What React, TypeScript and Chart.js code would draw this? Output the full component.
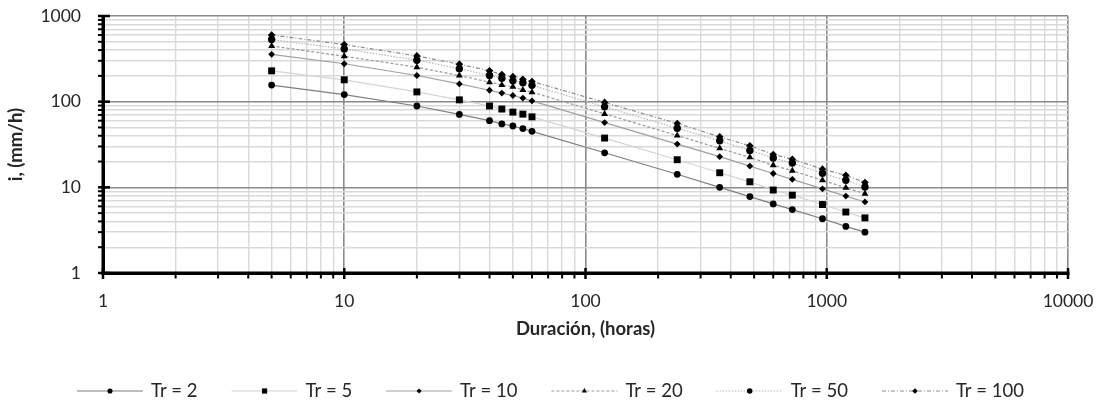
import React, { useEffect, useRef } from "react";
import { Chart, registerables } from "chart.js";

Chart.register(...registerables);

// Storm duration (hours)
const durations = [5, 10, 20, 30, 40, 45, 50, 55, 60, 120, 240, 360, 480, 600, 720, 960, 1200, 1440];

// Rainfall intensity (mm/h) for each return period
const tr2 = [156, 121, 89, 71, 60, 55, 52, 48.5, 45, 25.3, 14.2, 10.0, 7.8, 6.4, 5.5, 4.3, 3.5, 3.0];
const tr5 = [229, 180, 130, 105, 89, 82, 75.5, 71.5, 66.5, 37.6, 21, 14.8, 11.6, 9.3, 8.1, 6.3, 5.15, 4.4];
const tr10 = [357, 277, 202, 161, 136, 126, 118, 110, 102, 57, 32, 22.8, 17.7, 14.5, 12.4, 9.6, 7.9, 6.75];
const tr20 = [447, 339, 252, 202, 169, 157, 149, 137, 129, 72, 40.3, 28.5, 22.4, 18.1, 15.6, 12.1, 9.9, 8.4];
const tr50 = [531, 413, 305, 243, 202, 188, 175, 166, 155, 87, 49, 35, 27, 22, 19.2, 14.6, 12.1, 10.1];
const tr100 = [601, 464, 342, 274, 229, 207, 196, 183, 172, 98, 55.7, 38.9, 30.5, 24.2, 21.3, 16.3, 13.8, 11.4];

const seriesNames = ["Tr = 2", "Tr = 5", "Tr = 10", "Tr = 20", "Tr = 50", "Tr = 100"];
const seriesValues = [tr2, tr5, tr10, tr20, tr50, tr100];

const xMin = 1;
const xMax = 10000;
const yMin = 1;
const yMax = 1000;
const xTitle = "Duración, (horas)";
const yTitle = "i, (mm/h)";

const FONT = '"Lato", "Liberation Sans", sans-serif';
const TEXT = "#262626";

type Marker = "circle" | "rect" | "rectRot" | "triangle";
interface SeriesStyle {
  color: string;
  dash: number[];
  point: Marker;
  r: number;
}

const seriesStyles: SeriesStyle[] = [
  { color: "#7f7f7f", dash: [], point: "circle", r: 3.4 },
  { color: "#d4d4d4", dash: [], point: "rect", r: 4.9 },
  { color: "#a0a0a0", dash: [], point: "rectRot", r: 3.4 },
  { color: "#9a9a9a", dash: [3, 2], point: "triangle", r: 4 },
  { color: "#b8b8b8", dash: [1.5, 1.5], point: "circle", r: 3.7 },
  { color: "#8c8c8c", dash: [4, 2, 1, 2], point: "rectRot", r: 3.8 },
];

const isDecade = (v: number) => Math.abs(Math.log10(v) - Math.round(Math.log10(v))) < 1e-9;

// 1..9 x 10^k between min and max
function logTicks(min: number, max: number) {
  const out: number[] = [];
  for (let e = Math.round(Math.log10(min)); Math.pow(10, e) <= max; e++) {
    for (let m = 1; m <= 9; m++) {
      const v = m * Math.pow(10, e);
      if (v >= min - 1e-9 && v <= max + 1e-9) out.push(Number(v.toPrecision(6)));
    }
  }
  return out;
}

function drawMarker(ctx: CanvasRenderingContext2D, kind: Marker, x: number, y: number, r: number) {
  ctx.beginPath();
  if (kind === "circle") {
    ctx.arc(x, y, r, 0, Math.PI * 2);
  } else if (kind === "rect") {
    const s = r * Math.SQRT1_2;
    ctx.rect(x - s, y - s, 2 * s, 2 * s);
  } else if (kind === "rectRot") {
    ctx.moveTo(x - r, y);
    ctx.lineTo(x, y - r);
    ctx.lineTo(x + r, y);
    ctx.lineTo(x, y + r);
    ctx.closePath();
  } else {
    const h = r * 1.5;
    ctx.moveTo(x, y - r);
    ctx.lineTo(x + h * 0.577, y + h - r);
    ctx.lineTo(x - h * 0.577, y + h - r);
    ctx.closePath();
  }
  ctx.fill();
}

// Axis lines, tick marks, axis titles and the legend row
const decorations = {
  id: "decorations",
  afterDraw(chart: any) {
    const { ctx, chartArea: a, scales } = chart;
    const xs = scales.x;
    const ys = scales.y;
    ctx.save();
    ctx.fillStyle = "#000";

    // y axis
    ctx.fillRect(a.left - 1.5, a.top - 1, 3.5, a.bottom - a.top + 2.5);
    for (const v of logTicks(yMin, yMax)) {
      const py = ys.getPixelForValue(v);
      if (isDecade(v)) ctx.fillRect(a.left - 5, py - 1.25, 12, 2.5);
      else ctx.fillRect(a.left - 5, py - 1, 4, 2);
    }
    // x axis
    ctx.fillRect(a.left - 1.5, a.bottom - 1.5, a.right - a.left + 3, 3.5);
    for (const v of logTicks(xMin, xMax)) {
      const px = xs.getPixelForValue(v);
      if (isDecade(v)) ctx.fillRect(px - 1.25, a.bottom - 5, 2.5, 11);
      else ctx.fillRect(px - 1, a.bottom + 1.5, 2, 4);
    }

    // titles
    ctx.fillStyle = TEXT;
    ctx.font = `bold 18.5px ${FONT}`;
    ctx.textAlign = "center";
    ctx.textBaseline = "middle";
    ctx.fillText(xTitle, (a.left + a.right) / 2, 329);
    ctx.save();
    ctx.translate(16, (a.top + a.bottom) / 2);
    ctx.rotate(-Math.PI / 2);
    ctx.fillText(yTitle, 0, 0);
    ctx.restore();

    // legend
    ctx.font = `18.5px ${FONT}`;
    const lineLen = 66;
    const gapLine = 8;
    const gapItem = 34;
    const widths = seriesNames.map((n) => ctx.measureText(n).width);
    const total = widths.reduce((s, w) => s + lineLen + gapLine + w, 0) + gapItem * (seriesNames.length - 1);
    let lx = (chart.width - total) / 2;
    const ly = 391;
    seriesNames.forEach((name, i) => {
      const st = seriesStyles[i];
      ctx.strokeStyle = st.color;
      ctx.lineWidth = 1.2;
      ctx.setLineDash(st.dash);
      ctx.beginPath();
      ctx.moveTo(lx, ly);
      ctx.lineTo(lx + lineLen, ly);
      ctx.stroke();
      ctx.setLineDash([]);
      ctx.fillStyle = "#000";
      drawMarker(ctx, st.point, lx + lineLen / 2, ly, st.r * 0.75);
      ctx.fillStyle = TEXT;
      ctx.textAlign = "left";
      ctx.fillText(name, lx + lineLen + gapLine, ly);
      lx += lineLen + gapLine + widths[i] + gapItem;
    });
    ctx.restore();
  },
};

const gridColor = (c: any) => (c.tick && isDecade(c.tick.value) ? "#8a8a8a" : "#d9d9d9");
const gridWidth = (c: any) => (c.tick && isDecade(c.tick.value) ? 1.6 : 1.4);

export default function App() {
  const ref = useRef<HTMLCanvasElement>(null);

  useEffect(() => {
    if (!ref.current) return;
    const datasets = seriesNames.map((name, i) => {
      const st = seriesStyles[i];
      return {
        label: name,
        data: durations.map((t, k) => ({ x: t, y: seriesValues[i][k] })),
        showLine: true,
        borderColor: st.color,
        borderWidth: 1.2,
        borderDash: st.dash,
        pointStyle: st.point,
        pointRadius: st.r,
        pointBackgroundColor: "#000",
        pointBorderColor: "#000",
        pointBorderWidth: 0,
        fill: false,
      };
    });

    const chart = new Chart(ref.current, {
      type: "scatter",
      data: { datasets },
      options: {
        animation: false,
        responsive: false,
        layout: { padding: { top: 16, right: 33, left: 0, bottom: 0 } },
        plugins: { legend: { display: false }, tooltip: { enabled: false } },
        scales: {
          x: {
            type: "logarithmic",
            min: xMin,
            max: xMax,
            afterBuildTicks: (s: any) => {
              s.ticks = logTicks(xMin, xMax).map((v) => ({ value: v }));
            },
            afterFit: (s: any) => {
              s.height = 140;
              s.paddingLeft = 0;
              s.paddingRight = 0;
            },
            ticks: {
              autoSkip: false,
              maxRotation: 0,
              padding: 18,
              color: TEXT,
              font: { family: FONT, size: 17.5 },
              callback: (v: any) => (isDecade(Number(v)) ? String(Number(v)) : ""),
            },
            grid: { color: gridColor, lineWidth: gridWidth, drawTicks: false },
            border: { display: false },
          },
          y: {
            type: "logarithmic",
            min: yMin,
            max: yMax,
            afterBuildTicks: (s: any) => {
              s.ticks = logTicks(yMin, yMax).map((v) => ({ value: v }));
            },
            afterFit: (s: any) => {
              s.width = 103;
              s.paddingTop = 0;
              s.paddingBottom = 0;
            },
            ticks: {
              autoSkip: false,
              padding: 22,
              color: TEXT,
              font: { family: FONT, size: 17.5 },
              callback: (v: any) => (isDecade(Number(v)) ? String(Number(v)) : ""),
            },
            grid: { color: gridColor, lineWidth: gridWidth, drawTicks: false },
            border: { display: false },
          },
        },
      },
      plugins: [decorations],
    } as any);

    return () => chart.destroy();
  }, []);

  return (
    <div style={{ position: "fixed", left: 0, top: 0, width: 1101, height: 413, background: "#fff" }}>
      <canvas ref={ref} width={1101} height={413} style={{ display: "block" }} />
    </div>
  );
}
